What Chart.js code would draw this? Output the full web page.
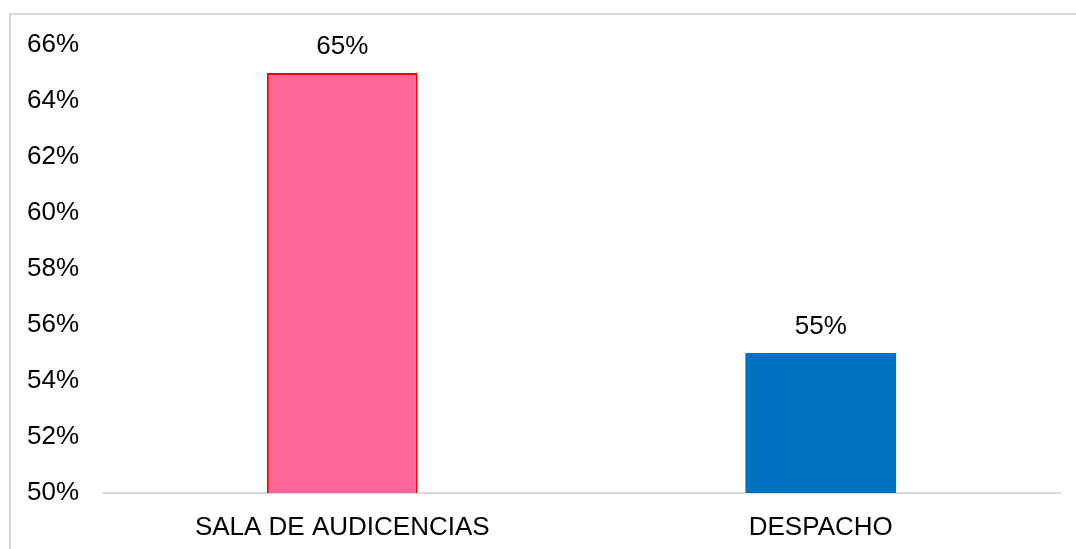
<!DOCTYPE html>
<html>
<head>
<meta charset="utf-8">
<script src="https://cdn.jsdelivr.net/npm/chart.js@4/dist/chart.umd.min.js"></script>
<style>
  html, body { margin: 0; padding: 0; background: #fff; }
  #wrap { width: 1076px; height: 549px; }
</style>
</head>
<body>
<div id="wrap"><canvas id="chart"></canvas></div>
<script>
const categories = ['SALA DE AUDICENCIAS', 'DESPACHO'];
const values = [65, 55];
const barColors = ['#FF6699', '#0070C0'];
const barBorders = ['#FF0000', '#0070C0'];
const yMin = 50;
const yMax = 66;
const yStep = 2;

const fontFamily = '"Liberation Sans", Arial, sans-serif';

// borde exterior
const frame = {
  id: 'frame',
  beforeDraw(chart) {
    const ctx = chart.ctx;
    ctx.save();
    ctx.strokeStyle = '#d9d9d9';
    ctx.lineWidth = 2;
    ctx.strokeRect(10, 14, 1200, 700);
    ctx.restore();
  }
};

// etiquetas de valor
const valueLabels = {
  id: 'valueLabels',
  afterDatasetsDraw(chart) {
    const ctx = chart.ctx;
    const meta = chart.getDatasetMeta(0);
    ctx.save();
    ctx.font = '26px ' + fontFamily;
    ctx.fillStyle = '#000';
    ctx.textAlign = 'center';
    ctx.textBaseline = 'alphabetic';
    meta.data.forEach((bar, i) => {
      ctx.fillText(values[i] + '%', bar.x, bar.y - 19);
    });
    ctx.restore();
  }
};

new Chart(document.getElementById('chart'), {
  type: 'bar',
  data: {
    labels: categories,
    datasets: [{
      data: values,
      backgroundColor: barColors,
      borderColor: barBorders,
      borderWidth: [2, 0],
      barPercentage: 0.315,
      categoryPercentage: 1
    }]
  },
  options: {
    responsive: true,
    maintainAspectRatio: false,
    animation: false,
    layout: { padding: { left: 27, right: 16, top: 45, bottom: 0 } },
    plugins: {
      legend: { display: false },
      tooltip: { enabled: false }
    },
    scales: {
      x: {
        grid: { display: false },
        border: { display: true, color: '#d9d9d9', width: 2 },
        ticks: {
          color: '#000',
          font: { family: fontFamily, size: 26 },
          padding: 11,
          maxRotation: 0
        },
        afterFit(scale) { scale.height = 56; }
      },
      y: {
        min: yMin,
        max: yMax,
        grid: { display: false },
        border: { display: false },
        ticks: {
          stepSize: yStep,
          color: '#000',
          crossAlign: 'far',
          font: { family: fontFamily, size: 26 },
          callback: v => v + '%'
        },
        afterFit(scale) { scale.width = 76; }
      }
    }
  },
  plugins: [frame, valueLabels]
});
</script>
</body>
</html>
